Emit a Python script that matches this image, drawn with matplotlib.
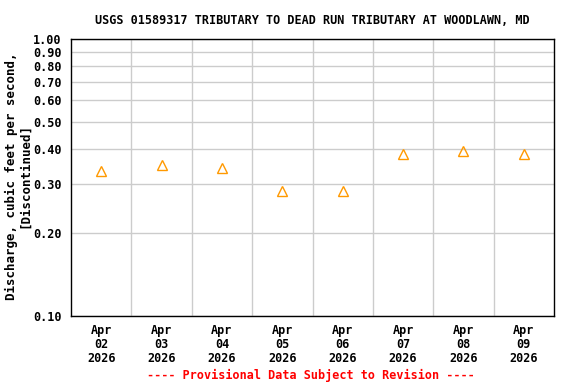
import matplotlib
matplotlib.use("Agg")
import matplotlib.pyplot as plt
import numpy as np

days = ["02", "03", "04", "05", "06", "07", "08", "09"]
discharge = [0.333, 0.352, 0.341, 0.282, 0.282, 0.383, 0.393, 0.383]
yticks = [0.10, 0.20, 0.30, 0.40, 0.50, 0.60, 0.70, 0.80, 0.90, 1.00]
xlabels = [f"Apr\n{d}\n2026" for d in days]

plt.rcParams['font.family'] = ['DejaVu Sans Mono']
plt.rcParams['font.weight'] = 'bold'
fs = 8.5

fig = plt.figure(figsize=(5.76, 3.84), dpi=100)
ax = fig.add_axes([71/576, 1-316/384, (554-71)/576, (316-39)/384])

x = np.arange(len(days)) + 0.5
ax.plot(x, discharge, linestyle='none', marker='^', markersize=7.2,
        markerfacecolor='none', markeredgecolor='#FF9900', markeredgewidth=1.0)

ax.set_yscale('log')
ax.set_ylim(0.1, 1.0)
ax.set_xlim(0, len(days))
ax.set_yticks(yticks)
ax.set_yticklabels([f"{v:.2f}" for v in yticks], fontsize=fs, fontweight='bold')
ax.yaxis.set_minor_locator(matplotlib.ticker.NullLocator())
ax.set_xticks(np.arange(1, len(days)))
ax.set_xticklabels([])
ax.set_xticks(x, minor=True)
ax.set_xticklabels(xlabels, minor=True, fontsize=fs, fontweight='bold', linespacing=1.1)
ax.tick_params(axis='both', which='both', length=0)
ax.tick_params(axis='x', which='minor', pad=6)
ax.tick_params(axis='y', pad=7)
ax.grid(True, which='major', color='#cccccc', linewidth=1.0)
ax.set_axisbelow(True)
for s in ax.spines.values():
    s.set_color('black')
    s.set_linewidth(1.0)

fig.text(312/576, 1-20/384, "USGS 01589317 TRIBUTARY TO DEAD RUN TRIBUTARY AT WOODLAWN, MD",
         ha='center', va='center', fontsize=fs, fontweight='bold')
fig.text(18/576, 1-176/384, "Discharge, cubic feet per second,\n[Discontinued]",
         ha='center', va='center', rotation=90, fontsize=9.0, fontweight='bold', linespacing=1.05)
fig.text(311/576, 1-375/384, "---- Provisional Data Subject to Revision ----",
         ha='center', va='center', fontsize=fs, fontweight='bold', color='red')

fig.savefig("out.png", dpi=100)
